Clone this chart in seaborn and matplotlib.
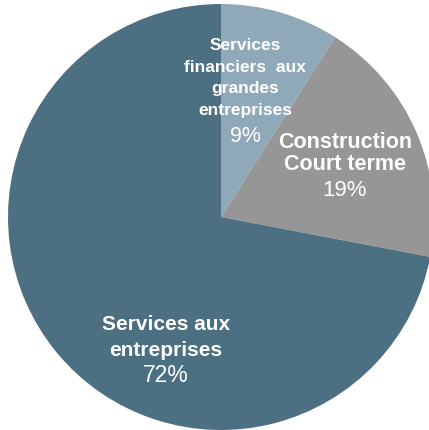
import matplotlib
matplotlib.use("Agg")
import matplotlib.pyplot as plt
import seaborn as sns

sns.set_theme(style="white")
plt.rcParams["font.family"] = ["Liberation Sans", "DejaVu Sans"]

# Shares of the sector, clockwise from the top
categories = ["Services financiers aux grandes entreprises",
              "Construction Court terme",
              "Services aux entreprises"]
shares = [9, 19, 72]
colors = ["#8FA9B8", "#969696", "#4D6F82"]

# Label lines for each slice (bold name lines, then the share)
label_lines = [
    ["Services", "financiers  aux", "grandes", "entreprises"],
    ["Construction", "Court terme"],
    ["Services aux", "entreprises"],
]

W, H, DPI = 429, 431, 100
fig = plt.figure(figsize=(W / DPI, H / DPI), dpi=DPI)
ax = fig.add_axes([0, 0, 1, 1])

# Pie centre sits at pixel (221, 218) with radius 213 px
cx, cy, r = 221, 218, 213
ax.pie(shares, colors=colors, startangle=90, counterclock=False,
       radius=1, center=(0, 0), wedgeprops=dict(linewidth=0))
ax.set_xlim(-cx / r, (W - cx) / r)
ax.set_ylim(-(H - cy) / r, cy / r)
ax.set_aspect("auto")
ax.axis("off")


def put(x, y, s, size, weight):
    fig.text(x / W, 1 - y / H, s, ha="center", va="center",
             color="white", fontsize=size, fontweight=weight)


# Label layout: (x centre, y of each line in px, name size, share size)
layout = [
    (245, [45, 67, 88, 110, 136], 12.5, 15.5),
    (345, [142, 165, 190], 15.5, 16),
    (166, [325, 350, 376], 15, 16.5),
]
for (x, ys, size, psize), lines, share in zip(layout, label_lines, shares):
    for y, line in zip(ys, lines):
        put(x, y, line, size, "bold")
    put(x, ys[len(lines)], f"{share}%", psize, "normal")

fig.savefig("out.png", dpi=DPI)
